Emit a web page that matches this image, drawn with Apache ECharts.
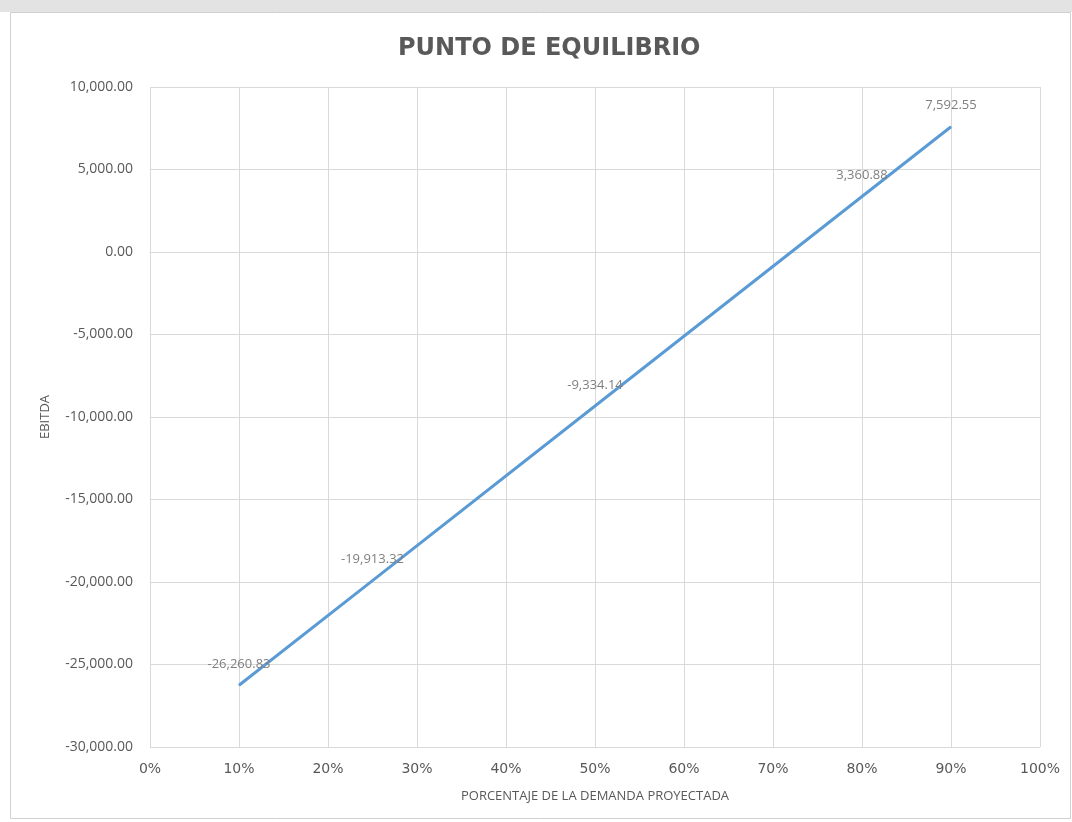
<!DOCTYPE html>
<html>
<head>
<meta charset="utf-8">
<script src="https://cdn.jsdelivr.net/npm/echarts@6/dist/echarts.min.js"></script>
<style>
html,body{margin:0;padding:0;background:#ffffff;}
#chart{width:1072px;height:822px;}
</style>
</head>
<body>
<div id="chart"></div>
<script>
// Data
const demandPct = [10, 25, 50, 80, 90];
const ebitda = [-26260.83, -19913.32, -9334.14, 3360.88, 7592.55];
const titleText = 'PUNTO DE EQUILIBRIO';
const xAxisName = 'PORCENTAJE DE LA DEMANDA PROYECTADA';
const yAxisName = 'EBITDA';

const fmt = v => v.toLocaleString('en-US', {minimumFractionDigits: 2, maximumFractionDigits: 2});
const seriesData = demandPct.map((x, i) => [x, ebitda[i]]);

const chart = echarts.init(document.getElementById('chart'));
chart.setOption({
  animation: false,
  backgroundColor: '#ffffff',
  graphic: [
    {type: 'rect', shape: {x: 0, y: 0, width: 1072, height: 12}, style: {fill: '#e3e3e3'}, z: -10, silent: true},
    {type: 'rect', shape: {x: 10.5, y: 12.5, width: 1060, height: 806}, style: {fill: '#ffffff', stroke: '#d0d0d0', lineWidth: 1}, z: -9, silent: true}
  ],
  title: {
    text: titleText,
    left: 393,
    top: 32,
    textStyle: {fontFamily: 'DejaVu Sans', fontWeight: 'bold', fontSize: 24, color: '#595959'}
  },
  grid: {left: 150, right: 32, top: 87, bottom: 75, containLabel: false},
  xAxis: {
    type: 'value',
    min: 0, max: 100, interval: 10,
    name: xAxisName,
    nameLocation: 'middle',
    nameGap: 43,
    nameTextStyle: {fontFamily: 'Open Sans', fontSize: 13, color: '#595959'},
    axisLine: {show: true, lineStyle: {color: '#d9d9d9', width: 1}},
    axisTick: {show: false},
    axisLabel: {formatter: '{value}%', color: '#595959', fontFamily: 'DejaVu Sans', fontSize: 14, margin: 15},
    splitLine: {show: true, lineStyle: {color: '#d9d9d9', width: 1}}
  },
  yAxis: {
    type: 'value',
    min: -30000, max: 10000, interval: 5000,
    name: yAxisName,
    nameLocation: 'middle',
    nameGap: 98,
    nameRotate: 90,
    nameTextStyle: {fontFamily: 'Open Sans', fontSize: 13, color: '#595959'},
    axisLine: {show: false},
    axisTick: {show: false},
    axisLabel: {formatter: v => fmt(v), color: '#595959', fontFamily: 'Open Sans', fontSize: 14, margin: 17},
    splitLine: {show: true, lineStyle: {color: '#d9d9d9', width: 1}}
  },
  series: [{
    type: 'line',
    data: seriesData,
    showSymbol: true,
    symbol: 'circle',
    symbolSize: 1,
    itemStyle: {color: '#5b9bd5'},
    lineStyle: {color: '#5b9bd5', width: 3},
    label: {
      show: true,
      position: 'top',
      distance: 14,
      formatter: p => fmt(p.value[1]),
      color: '#7f7f7f',
      fontFamily: 'Open Sans',
      fontSize: 13
    },
    labelLayout: {hideOverlap: false}
  }]
});
</script>
</body>
</html>
